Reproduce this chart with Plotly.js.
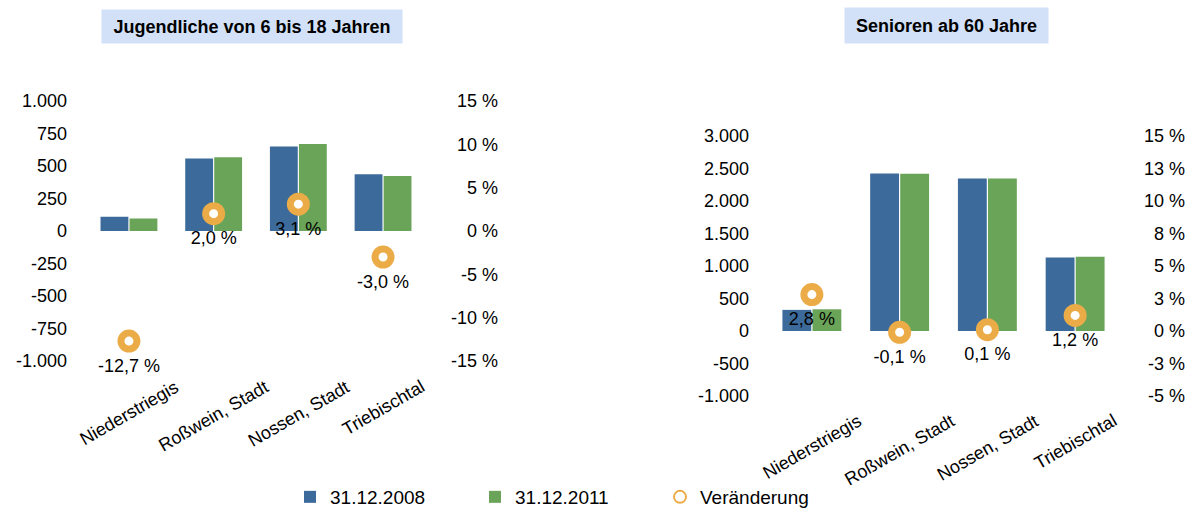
<!DOCTYPE html>
<html><head><meta charset="utf-8">
<script src="https://cdn.plot.ly/plotly-3.0.1.min.js"></script>
<style>html,body{margin:0;padding:0;background:#fff}#chart{width:1185px;height:510px}</style>
</head><body><div id="chart"></div>
<script>
const categories = ['Niederstriegis', 'Roßwein, Stadt', 'Nossen, Stadt', 'Triebischtal'];
const seriesNames = ['31.12.2008', '31.12.2011', 'Veränderung'];
const titles = ['Jugendliche von 6 bis 18 Jahren', 'Senioren ab 60 Jahre'];

const youth2008 = [110, 557, 650, 437];
const youth2011 = [96, 568, 670, 424];
const youthChange = [-12.7, 2.0, 3.1, -3.0];

const senior2008 = [325, 2422, 2345, 1130];
const senior2011 = [334, 2420, 2347, 1144];
const seniorChange = [2.8, -0.1, 0.1, 1.2];

const youthTickVals = [-1000, -750, -500, -250, 0, 250, 500, 750, 1000];
const youthTickText = ['-1.000', '-750', '-500', '-250', '0', '250', '500', '750', '1.000'];
const youthPctVals = [-15, -10, -5, 0, 5, 10, 15];
const youthPctText = ['-15 %', '-10 %', '-5 %', '0 %', '5 %', '10 %', '15 %'];

const seniorTickVals = [-1000, -500, 0, 500, 1000, 1500, 2000, 2500, 3000];
const seniorTickText = ['-1.000', '-500', '0', '500', '1.000', '1.500', '2.000', '2.500', '3.000'];
const seniorPctVals = [-5, -2.5, 0, 2.5, 5, 7.5, 10, 12.5, 15];
const seniorPctText = ['-5 %', '-3 %', '0 %', '3 %', '5 %', '8 %', '10 %', '13 %', '15 %'];

const FONT = 'Helvetica Neue, Helvetica, Arial, Liberation Sans, sans-serif';
const BLUE = '#3c6b9b', GREEN = '#6aa458', ORANGE = '#ebac48', TITLEBG = '#d2e1f8';
const W = 1185, H = 510;
const px = v => v / W, py = v => (H - v) / H;
const fmtPct = v => v.toFixed(1).replace('.', ',') + ' %';
const catRange = [-0.5, categories.length - 0.5];

function barTrace(name, y, color, xa, ya, show) {
  return {type: 'bar', name: name, x: categories, y: y, xaxis: xa, yaxis: ya,
    marker: {color: color, line: {width: 0}}, showlegend: show, legendgroup: name, hoverinfo: 'skip'};
}
function changeTrace(y, xa, ya, show) {
  return {type: 'scatter', mode: 'markers', name: seriesNames[2], x: categories, y: y,
    xaxis: xa, yaxis: ya,
    marker: {size: 16, color: '#fff', line: {color: ORANGE, width: 7}},
    cliponaxis: false, showlegend: show, legendgroup: 'chg', hoverinfo: 'skip'};
}
function changeLabels(y, xa, ya) {
  return {type: 'scatter', mode: 'markers+text', name: seriesNames[2], x: categories, y: y,
    xaxis: xa, yaxis: ya, text: y.map(fmtPct), textposition: 'bottom center',
    textfont: {family: FONT, size: 18, color: '#000'},
    marker: {size: 26, opacity: 0},
    cliponaxis: false, showlegend: false, hoverinfo: 'skip'};
}

const data = [
  barTrace(seriesNames[0], youth2008, BLUE, 'x', 'y', true),
  barTrace(seriesNames[1], youth2011, GREEN, 'x', 'y', true),
  changeTrace(youthChange, 'x', 'y2', true),
  changeLabels(youthChange, 'x', 'y2'),
  barTrace(seriesNames[0], senior2008, BLUE, 'x2', 'y3', false),
  barTrace(seriesNames[1], senior2011, GREEN, 'x2', 'y3', false),
  changeTrace(seniorChange, 'x2', 'y4', false),
  changeLabels(seniorChange, 'x2', 'y4')
];

const tickFont = {family: FONT, size: 18, color: '#000'};
const baseY = {showgrid: false, zeroline: false, showline: false, ticks: '', tickfont: tickFont, fixedrange: true, automargin: false};
const baseX = {showgrid: false, zeroline: false, showline: false, ticks: '', showticklabels: false, fixedrange: true,
  automargin: false, range: catRange, autorange: false};

const annotations = [];
function addTitle(text, cx, cy, w, h) {
  annotations.push({text: '<b>' + text + '</b>', xref: 'paper', yref: 'paper', x: px(cx), y: py(cy),
    xanchor: 'center', yanchor: 'middle', showarrow: false, bgcolor: TITLEBG, width: w, height: h,
    borderpad: 0, font: {family: FONT, size: 18, color: '#000'}});
}
addTitle(titles[0], 252, 26.5, 300, 33);
addTitle(titles[1], 946.5, 25.5, 203, 35);
function addCatLabels(xref, topPx) {
  categories.forEach(c => annotations.push({text: c, xref: xref, yref: 'paper', x: c, y: py(topPx),
    xanchor: 'center', yanchor: 'top', textangle: -30, showarrow: false,
    font: {family: FONT, size: 18, color: '#000'}}));
}
addCatLabels('x', 374);
addCatLabels('x2', 408);

const layout = {
  width: W, height: H, margin: {l: 0, r: 0, t: 0, b: 0, pad: 0, autoexpand: false}, autosize: false,
  paper_bgcolor: '#fff', plot_bgcolor: 'rgba(0,0,0,0)',
  barmode: 'group', bargap: 0.315, bargroupgap: 0.04, hovermode: false,
  font: {family: FONT, color: '#000'},
  xaxis: Object.assign({}, baseX, {domain: [px(86.6), px(425.4)], anchor: 'y'}),
  yaxis: Object.assign({}, baseY, {domain: [py(361), py(101)], range: [-1000, 1000],
    tickvals: youthTickVals, ticktext: youthTickText, anchor: 'free', position: px(67)}),
  yaxis2: Object.assign({}, baseY, {domain: [py(361), py(101)], range: [-15, 15], overlaying: 'y', side: 'left',
    tickvals: youthPctVals, ticktext: youthPctText, anchor: 'free', position: px(498)}),
  xaxis2: Object.assign({}, baseX, {domain: [px(768), px(1119)], anchor: 'y3'}),
  yaxis3: Object.assign({}, baseY, {domain: [py(396), py(136)], range: [-1000, 3000],
    tickvals: seniorTickVals, ticktext: seniorTickText, anchor: 'free', position: px(749)}),
  yaxis4: Object.assign({}, baseY, {domain: [py(396), py(136)], range: [-5, 15], overlaying: 'y3', side: 'left',
    tickvals: seniorPctVals, ticktext: seniorPctText, anchor: 'free', position: 1}),
  legend: {orientation: 'h', x: 0.5 - 25 / W, xanchor: 'center', y: py(497), yanchor: 'middle',
    font: {family: FONT, size: 19, color: '#000'}, entrywidth: 140, itemsizing: 'constant', traceorder: 'normal'},
  annotations: annotations
};

Plotly.newPlot('chart', data, layout, {displayModeBar: false, staticPlot: true});
</script>
</body></html>
